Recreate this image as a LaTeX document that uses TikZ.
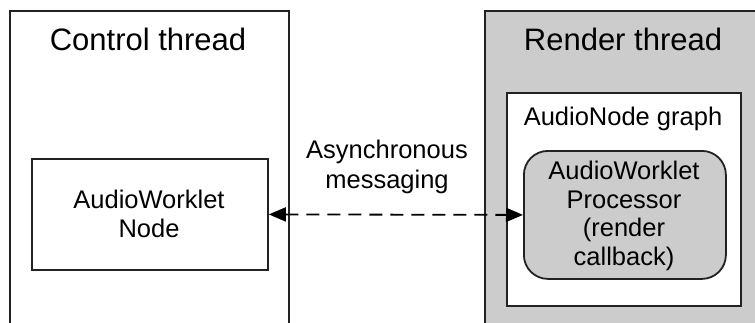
\documentclass[tikz,border=0pt]{standalone}
\usepackage{fontspec}
\setmainfont{Liberation Sans}
\usetikzlibrary{arrows.meta}
\definecolor{boxgray}{HTML}{CCCCCC}
\definecolor{linegray}{HTML}{222222}
\begin{document}
\begin{tikzpicture}[x=1pt,y=-1pt,
  frame/.style={draw=linegray, line width=1.8pt, inner sep=0pt, anchor=north west},
  title/.style={font=\fontsize{31}{36}\selectfont, text=black},
  body/.style={font=\fontsize{25.5}{28.5}\selectfont, align=center, text=black},
  msg/.style={draw=black, line width=1.8pt, dash pattern=on 13pt off 8pt,
    {Triangle[length=17pt,width=14pt]}-{Triangle[length=17pt,width=14pt]}}
]
\useasboundingbox (0,0) rectangle (755,322);
\clip (0,0) rectangle (755,322);
% outer thread boxes
\node[frame, fill=white, minimum width=279pt, minimum height=340pt] (ctrlbox) at (9,10) {};
\node[frame, fill=boxgray, minimum width=290pt, minimum height=340pt] (rendbox) at (484,10) {};
\node[title] (ctrltitle) at (148,39) {Control thread};
\node[title] (rendtitle) at (623,39) {Render thread};
% control side node
\node[frame, fill=white, minimum width=236pt, minimum height=111pt] (awn) at (31,158) {};
\node[body] (awntext) at (149,214) {AudioWorklet\\Node};
% render side graph
\node[frame, fill=white, minimum width=234pt, minimum height=213pt] (graph) at (506,92) {};
\node[body] (graphtitle) at (623,119) {AudioNode graph};
\node[frame, fill=boxgray, rounded corners=24pt, minimum width=202pt, minimum height=128pt] (proc) at (523,150) {};
\node[body] (proctext) at (624,216) {AudioWorklet\\Processor\\(render\\callback)};
% messaging
\node[body, font=\fontsize{25.5}{30}\selectfont] (lbl) at (387,167) {Asynchronous\\messaging};
\draw[msg] (awn.east) -- (proc.west);
\end{tikzpicture}
\end{document}
